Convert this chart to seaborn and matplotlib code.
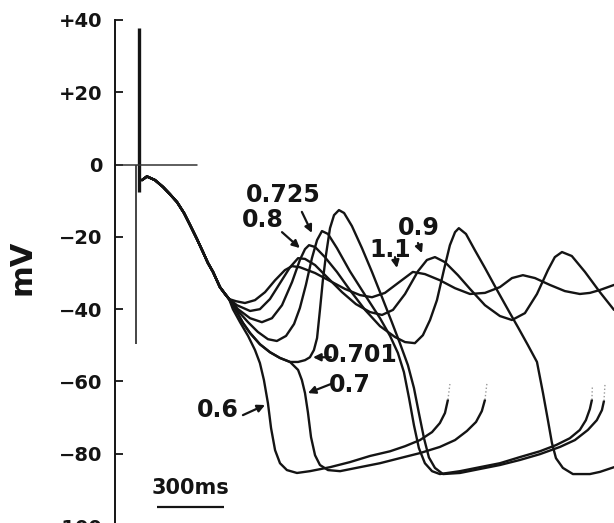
import matplotlib
matplotlib.use("Agg")
import matplotlib.pyplot as plt
import pandas as pd
import seaborn as sns

# ---------------- data (time in ms, potential in mV) ----------------
# part shared by every trace (after the stimulus)
t_common = [9, 31, 67, 103, 134, 166, 197, 224, 255, 282, 304, 327, 358, 381, 399]
v_common = [-4.3, -3.3, -4.3, -6.2, -8.2, -10.4, -13.4, -16.7, -20.6, -24.2, -27.2,
            -29.7, -33.9, -35.8, -37.2]

t_11 = [430, 470, 515, 560, 605, 649, 681, 716, 784, 851, 918, 985, 1039, 1097, 1155,
        1222, 1276, 1343, 1411, 1478, 1545, 1612, 1666, 1715, 1769, 1836, 1903, 1970,
        2015, 2060, 2123]
v_11 = [-37.8, -38.3, -37.5, -35.3, -32.0, -29.2, -28.1, -28.4, -30.0, -32.2, -34.4,
        -36.1, -36.7, -35.5, -32.8, -29.7, -30.3, -32.0, -34.2, -35.8, -35.5, -33.9,
        -31.4, -30.6, -31.4, -33.3, -35.0, -35.8, -35.5, -34.7, -33.3]

t_09 = [434, 493, 537, 582, 627, 672, 708, 739, 784, 842, 905, 967, 1030, 1084, 1133,
        1187, 1245, 1285, 1321, 1366, 1424, 1478, 1545, 1612, 1666, 1724, 1778, 1827,
        1858, 1890, 1934, 1993, 2060, 2123]
v_09 = [-38.9, -40.5, -40.0, -37.2, -32.8, -28.4, -25.9, -26.1, -27.8, -31.4, -35.3,
        -38.6, -40.8, -41.6, -40.2, -35.8, -29.5, -26.4, -25.6, -27.0, -30.6, -34.4,
        -38.9, -41.9, -43.0, -41.1, -35.8, -29.2, -25.6, -24.2, -25.3, -29.7, -35.3,
        -40.2]

t_08 = [439, 493, 546, 591, 636, 681, 716, 739, 757, 784, 828, 882, 940, 1008, 1075,
        1142, 1187, 1231, 1267, 1299, 1330, 1361, 1388, 1411, 1428, 1460, 1500, 1545,
        1599, 1657, 1693, 1737, 1778, 1805, 1827, 1845, 1863, 1894, 1939, 2015, 2060,
        2123]
v_08 = [-40.0, -42.5, -43.6, -42.5, -38.9, -32.5, -26.4, -23.4, -22.3, -22.8, -25.6,
        -29.7, -34.7, -40.2, -44.7, -47.7, -49.1, -49.4, -47.2, -43.0, -37.5, -29.2,
        -22.3, -18.7, -17.6, -19.2, -23.7, -28.6, -34.7, -41.1, -45.0, -49.9, -54.6,
        -63.2, -70.7, -77.0, -81.2, -83.9, -85.6, -85.6, -85.0, -83.7]

t_0725 = [439, 484, 528, 573, 613, 654, 690, 716, 743, 770, 793, 815, 842, 882, 940,
          1008, 1075, 1120, 1155, 1182, 1205, 1227, 1249, 1276, 1308, 1343, 1433, 1522,
          1612, 1702, 1791, 1863, 1925, 1970, 1997, 2015, 2024]
v_0725 = [-40.5, -43.6, -46.3, -48.3, -48.8, -47.4, -44.1, -39.7, -33.3, -25.9, -20.9,
          -18.4, -19.2, -23.1, -29.5, -36.1, -42.5, -47.4, -52.1, -57.4, -64.6, -72.1,
          -78.4, -82.6, -84.8, -85.6, -84.8, -83.7, -82.6, -80.9, -79.3, -77.6, -75.7,
          -73.4, -70.7, -67.6, -65.1]

# shared by 0.7 and 0.701 before they separate
t_07_shared = [434, 461, 493, 537, 582, 627, 672]
v_07_shared = [-40.8, -43.8, -46.6, -49.7, -51.9, -53.5, -54.6]

t_0701 = [708, 739, 761, 779, 793, 806, 819, 833, 851, 869, 891, 914, 949, 994, 1039,
          1084, 1128, 1164, 1200, 1227, 1249, 1272, 1294, 1321, 1357, 1433, 1522, 1612,
          1702, 1791, 1881, 1948, 2006, 2046, 2069, 2078]
v_0701 = [-54.6, -54.1, -53.3, -51.3, -48.0, -40.2, -32.0, -25.0, -17.6, -14.0, -12.6,
          -13.4, -17.0, -23.1, -29.7, -36.7, -43.6, -49.4, -55.5, -61.8, -68.7, -75.7,
          -81.0, -83.9, -85.6, -85.3, -84.2, -83.1, -81.7, -80.1, -78.1, -76.2, -73.4,
          -70.7, -67.9, -65.4]

t_07 = [708, 725, 739, 752, 766, 784, 806, 842, 896, 985, 1075, 1164, 1254, 1343, 1411,
        1464, 1505, 1531, 1545]
v_07 = [-56.8, -59.6, -63.2, -68.5, -75.4, -80.4, -83.1, -84.5, -84.8, -83.7, -82.6,
        -81.2, -79.8, -78.1, -76.2, -73.7, -71.2, -68.2, -65.1]

t_06 = [416, 448, 484, 515, 537, 555, 573, 587, 605, 627, 658, 703, 761, 851, 940, 1030,
        1120, 1187, 1254, 1308, 1343, 1366, 1379]
v_06 = [-40.0, -43.6, -47.4, -51.3, -54.9, -59.6, -66.0, -72.9, -79.0, -82.6, -84.5,
        -85.3, -84.8, -83.7, -82.3, -80.6, -79.3, -77.9, -76.2, -74.0, -71.5, -68.7,
        -65.1]

# faint (barely written) upstrokes at the end of the repolarised traces
up_t_06, up_v_06 = [1379, 1388], [-65.1, -60.7]
up_t_07, up_v_07 = [1545, 1554], [-65.1, -60.4]
up_t_0725, up_v_0725 = [2024, 2026], [-65.1, -61.5]
up_t_0701, up_v_0701 = [2078, 2083], [-65.4, -60.4]

# stimulus artefact, zero reference line and time scale bar
stim_thick_t, stim_thick_v = [-3, -3], [37.8, -7.5]
stim_thin_t, stim_thin_v = [-19, -19], [0.0, -49.5]
zero_t, zero_v = [-112, 257], [0.0, 0.0]
bar_t, bar_v = [76, 376], [-94.6, -94.6]

y_ticks = [40, 20, 0, -20, -40, -60, -80, -100]
y_ticklabels = ["+40", "+20", "0", "\u221220", "\u221240", "\u221260", "\u221280", "\u2212100"]

# labels: text, text position, arrow tail, arrow tip
lab_text = ["0.725", "0.8", "0.9", "1.1", "0.701", "0.7", "0.6"]
lab_t = [641, 551, 1249, 1120, 985, 940, 349]
lab_v = [-8.4, -15.4, -17.6, -23.7, -52.7, -61.0, -67.9]
arr_tail_t = [725, 636, 1245, 1142, 855, 855, 461]
arr_tail_v = [-13.1, -18.7, -21.7, -25.6, -53.3, -60.7, -69.3]
arr_tip_t = [770, 716, 1263, 1151, 775, 752, 560]
arr_tip_v = [-18.9, -23.1, -24.5, -28.6, -53.3, -63.2, -66.5]

# ---------------- assemble long table ----------------
pieces = {
    "1.1": (t_common + t_11, v_common + v_11),
    "0.9": (t_common + t_09, v_common + v_09),
    "0.8": (t_common + t_08, v_common + v_08),
    "0.725": (t_common + t_0725, v_common + v_0725),
    "0.701": (t_common + t_07_shared + t_0701, v_common + v_07_shared + v_0701),
    "0.7": (t_common + t_07_shared + t_07, v_common + v_07_shared + v_07),
    "0.6": (t_common + t_06, v_common + v_06),
}
rows = []
for name, (tt, vv) in pieces.items():
    for i, (a, b) in enumerate(zip(tt, vv)):
        rows.append({"curve": name, "order": i, "t": a, "V": b})
df = pd.DataFrame(rows)

faint = {"0.6": (up_t_06, up_v_06), "0.7": (up_t_07, up_v_07),
         "0.725": (up_t_0725, up_v_0725), "0.701": (up_t_0701, up_v_0701)}
frows = []
for name, (tt, vv) in faint.items():
    for i, (a, b) in enumerate(zip(tt, vv)):
        frows.append({"curve": name, "order": i, "t": a, "V": b})
dff = pd.DataFrame(frows)

# ---------------- drawing ----------------
sns.set_theme(style="white")
plt.rcParams["font.family"] = ["DejaVu Sans"]
ink = "#141414"
narrow = ["Liberation Sans Narrow", "DejaVu Sans"]

fig = plt.figure(figsize=(6.14, 5.23), dpi=100)
ax = fig.add_axes([115 / 614, -10 / 523, 499 / 614, 533 / 523])
ax.set_facecolor("white")

sns.lineplot(data=df, x="t", y="V", units="curve", estimator=None, sort=False,
             color=ink, lw=1.7, legend=False, ax=ax)
sns.lineplot(data=dff, x="t", y="V", units="curve", estimator=None, sort=False,
             color="#9a9a9a", lw=1.0, linestyle=":", legend=False, ax=ax)

ax.plot(stim_thick_t, stim_thick_v, color=ink, lw=2.4, solid_capstyle="butt")
ax.plot(stim_thin_t, stim_thin_v, color=ink, lw=1.1, solid_capstyle="butt")
ax.plot(zero_t, zero_v, color="#333333", lw=1.1)
ax.plot(bar_t, bar_v, color=ink, lw=1.6, solid_capstyle="butt")
ax.text((bar_t[0] + bar_t[1]) / 2 + 1, bar_v[0] + 5.2, "300ms", ha="center", va="center",
        fontsize=15, fontweight="bold", color=ink)

for txt, x, y in zip(lab_text, lab_t, lab_v):
    ax.text(x, y, txt, ha="center", va="center", fontsize=17, fontweight="bold",
            color=ink, family=narrow)
for x0, y0, x1, y1 in zip(arr_tail_t, arr_tail_v, arr_tip_t, arr_tip_v):
    ax.annotate("", xy=(x1, y1), xytext=(x0, y0),
                arrowprops=dict(arrowstyle="-|>", color=ink, lw=1.6,
                                mutation_scale=11, shrinkA=0, shrinkB=0))

ax.set_xlim(-112, 2123)
ax.set_ylim(-101.9, 45.5)
ax.set_xticks([])
ax.set_yticks(y_ticks)
ax.set_yticklabels(y_ticklabels, fontsize=14, fontweight="bold", color=ink)
ax.tick_params(axis="y", direction="in", length=5.5, width=1.3, pad=9, colors=ink,
               left=True)
ax.set_xlabel("")
ax.set_ylabel("")
for s in ["top", "right", "bottom"]:
    ax.spines[s].set_visible(False)
ax.spines["left"].set_bounds(-102, 40)
ax.spines["left"].set_color(ink)
ax.spines["left"].set_linewidth(1.4)

fig.text(22 / 614, 1 - 267 / 523, "mV", rotation=90, ha="center", va="center",
         fontsize=22, fontweight="bold", color=ink, family=narrow)

fig.savefig("out.png", dpi=100, facecolor="white")
